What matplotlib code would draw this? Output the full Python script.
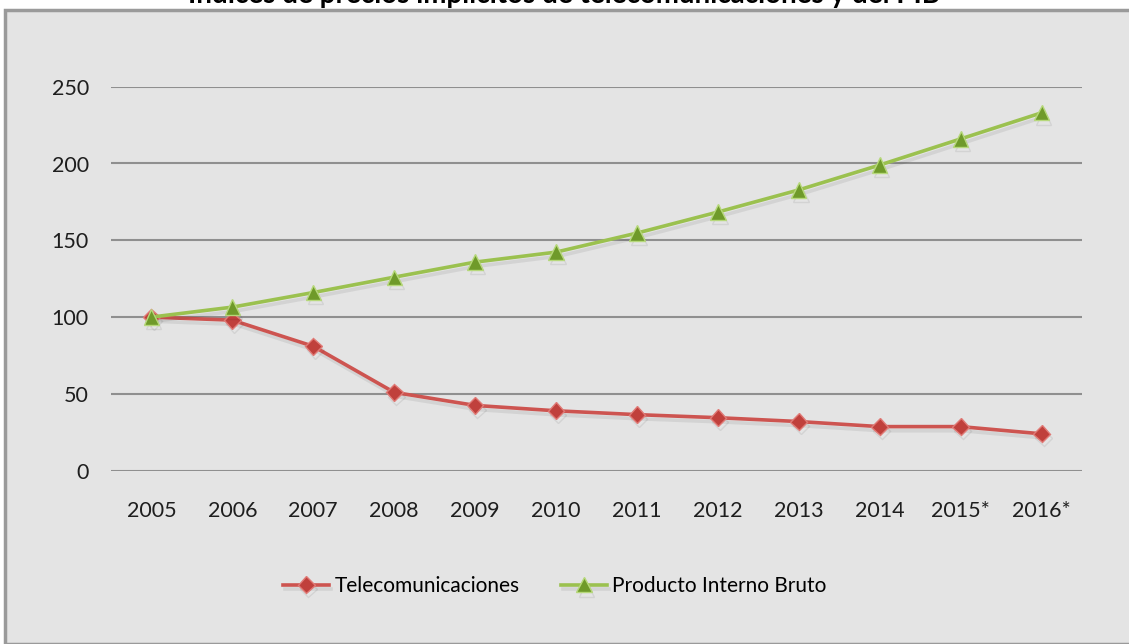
import matplotlib.pyplot as plt
import matplotlib.patheffects as pe
from matplotlib.patches import Rectangle

anios = ["2005", "2006", "2007", "2008", "2009", "2010", "2011", "2012", "2013", "2014", "2015*", "2016*"]
telecom = [100, 98, 81, 51, 42.5, 39, 36.5, 34.5, 32, 28.7, 28.7, 24]
pib = [100, 106.5, 116, 126, 135.8, 142.3, 154.7, 168.4, 182.8, 199, 216, 233]

plt.rcParams["font.family"] = ["Lato", "DejaVu Sans"]

fig = plt.figure(figsize=(11.29, 6.44), dpi=100)
fig.patch.set_facecolor("white")

# panel gris con borde
panel = Rectangle((5 / 1129, 0), 1.0, 1 - 10 / 644, transform=fig.transFigure,
                  facecolor="#e4e4e4", edgecolor="#9a9a9a", linewidth=2.5, zorder=-5)
fig.patches.append(panel)

fig.text(0.5, 1 - 2.5 / 644, "Índices de precios implícitos de telecomunicaciones y del PIB",
         ha="center", va="baseline", fontsize=20, fontweight="bold", color="black")

ax = fig.add_axes([111 / 1129, 1 - 470.7 / 644, 971 / 1129, 384 / 644])
ax.set_facecolor("none")
ax.set_zorder(2)

x = range(len(anios))
sombra = [pe.SimpleLineShadow(offset=(1.5, -3), shadow_color="black", alpha=0.07, rho=1), pe.Normal()]

ax.plot(x, telecom, color="#cd5450", linewidth=2.6, marker="D", markersize=8.5,
        markerfacecolor="#c0403c", markeredgecolor="#e07a76", markeredgewidth=1,
        label="Telecomunicaciones", path_effects=sombra, zorder=3)
ax.plot(x, pib, color="#9bc14f", linewidth=2.6, marker="^", markersize=11,
        markerfacecolor="#6f9a2a", markeredgecolor="#b6d87a", markeredgewidth=1,
        label="Producto Interno Bruto", path_effects=sombra, zorder=3)

ax.set_xlim(-0.5, len(anios) - 0.5)
ax.set_ylim(0, 250)
ax.set_yticks(range(0, 251, 50))
ax.set_xticks(list(x))
ax.set_xticklabels(anios)
ax.grid(axis="y", color="#8f8f8f", linewidth=1.5)
ax.set_axisbelow(True)
for s in ax.spines.values():
    s.set_visible(False)
ax.tick_params(length=0, labelsize=15.5, colors="#1e1e1e")
ax.tick_params(axis="y", pad=16)
ax.tick_params(axis="x", pad=22)

ax.legend(loc="center", bbox_to_anchor=(555 / 1129, 1 - 586 / 644), bbox_transform=fig.transFigure,
          ncol=2, frameon=False, fontsize=15, handlelength=2.2, columnspacing=2.0,
          handletextpad=0.25)

fig.savefig("out.png", dpi=100, facecolor=fig.get_facecolor())
